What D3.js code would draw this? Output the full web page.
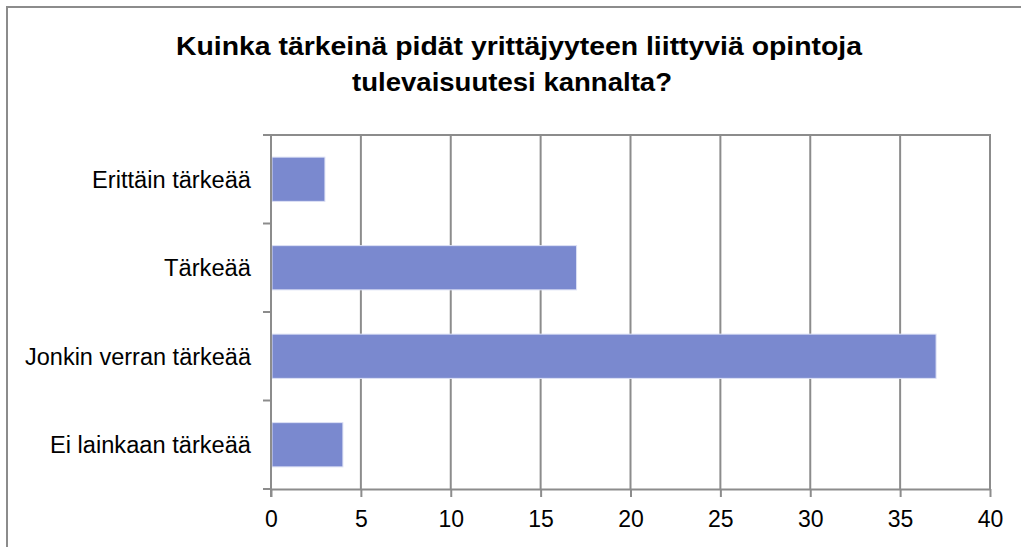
<!DOCTYPE html>
<html lang="fi">
<head>
  <meta charset="UTF-8">
  <title>Yrittäjyysopinnot</title>
  <script src="https://d3js.org/d3.v7.min.js"></script>
  <style>
    body { margin: 0; background: #fff; }
    svg { display: block; }
    text { font-family: "Liberation Sans", Arial, sans-serif; fill: #000; }
    .grid line { stroke: #8c8c8c; stroke-width: 2px; }
    .bar { fill: #7a89cf; stroke: #dde1f5; stroke-width: 1px; }
  </style>
</head>
<body>
  <svg id="chart" width="1021" height="547"></svg>
  <script>
    const categories = ['Erittäin tärkeää', 'Tärkeää', 'Jonkin verran tärkeää', 'Ei lainkaan tärkeää'];
    const values = [3, 17, 37, 4];
    const xTicks = [0, 5, 10, 15, 20, 25, 30, 35, 40];
    const titleLines = ['Kuinka tärkeinä pidät yrittäjyyteen  liittyviä opintoja', 'tulevaisuutesi kannalta?'];

    const width = 1021, height = 547;
    const margin = { top: 135, right: 31, bottom: 58, left: 271 };
    const svg = d3.select('#chart');
    const axisColor = '#8c8c8c';

    // outer chart border (runs off the right/bottom edge of the picture)
    svg.append('rect')
      .attr('x', 7).attr('y', 7)
      .attr('width', width + 20).attr('height', height + 20)
      .attr('fill', 'none')
      .attr('stroke', axisColor)
      .attr('stroke-width', 2);

    // title, squeezed a bit like the original
    const titleX = [519, 512];
    const titleW = [686, 320];
    svg.selectAll('text.title')
      .data(titleLines)
      .enter().append('text')
      .attr('class', 'title')
      .attr('x', (d, i) => titleX[i])
      .attr('y', (d, i) => 55 + i * 36)
      .attr('text-anchor', 'middle')
      .attr('font-size', 26)
      .attr('font-weight', 'bold')
      .attr('textLength', (d, i) => titleW[i])
      .attr('lengthAdjust', 'spacingAndGlyphs')
      .text(d => d);

    const x = d3.scaleLinear()
      .domain([0, 40])
      .range([margin.left, width - margin.right]);

    const y = d3.scaleBand()
      .domain(categories)
      .range([margin.top, height - margin.bottom])
      .paddingInner(0.5)
      .paddingOuter(0.25);

    const plotTop = margin.top, plotBottom = height - margin.bottom;

    // vertical gridlines
    svg.append('g')
      .attr('class', 'grid')
      .selectAll('line')
      .data(xTicks.slice(1))
      .enter().append('line')
      .attr('x1', d => x(d)).attr('x2', d => x(d))
      .attr('y1', plotTop).attr('y2', plotBottom);

    // top border of plot area
    svg.append('line')
      .attr('x1', x(0) - 8).attr('x2', x(40) + 1)
      .attr('y1', plotTop).attr('y2', plotTop)
      .attr('stroke', axisColor).attr('stroke-width', 2);

    // bars
    svg.selectAll('rect.bar')
      .data(values)
      .enter().append('rect')
      .attr('class', 'bar')
      .attr('x', x(0) + 1)
      .attr('y', (d, i) => y(categories[i]))
      .attr('width', d => x(d) - x(0) - 1)
      .attr('height', y.bandwidth());

    // x axis
    const xAxis = svg.append('g')
      .attr('transform', `translate(0,${plotBottom})`)
      .call(d3.axisBottom(x).tickValues(xTicks).tickSize(8).tickSizeOuter(0).tickPadding(14));
    xAxis.select('.domain').attr('stroke', axisColor).attr('stroke-width', 2);
    xAxis.selectAll('.tick line').attr('stroke', axisColor).attr('stroke-width', 2);
    xAxis.selectAll('.tick text')
      .attr('font-size', 23)
      .attr('fill', '#000')
      .style('font-family', '"Liberation Sans", Arial, sans-serif');

    // y axis: line plus ticks between categories
    const step = (plotBottom - plotTop) / categories.length;
    const boundaries = d3.range(categories.length + 1).map(i => plotTop + i * step);
    svg.append('line')
      .attr('x1', x(0)).attr('x2', x(0))
      .attr('y1', plotTop).attr('y2', plotBottom + 8)
      .attr('stroke', axisColor).attr('stroke-width', 2);
    svg.selectAll('line.ytick')
      .data(boundaries)
      .enter().append('line')
      .attr('class', 'ytick')
      .attr('x1', x(0) - 8).attr('x2', x(0))
      .attr('y1', d => d).attr('y2', d => d)
      .attr('stroke', axisColor).attr('stroke-width', 2);

    // category labels (slightly condensed, as in the original)
    const labelW = [159, 87, 226, 201];
    svg.selectAll('text.cat')
      .data(categories)
      .enter().append('text')
      .attr('class', 'cat')
      .attr('x', 251)
      .attr('y', d => y(d) + y.bandwidth() / 2)
      .attr('dy', '0.36em')
      .attr('text-anchor', 'end')
      .attr('font-size', 23)
      .attr('textLength', (d, i) => labelW[i])
      .attr('lengthAdjust', 'spacingAndGlyphs')
      .text(d => d);
  </script>
</body>
</html>
